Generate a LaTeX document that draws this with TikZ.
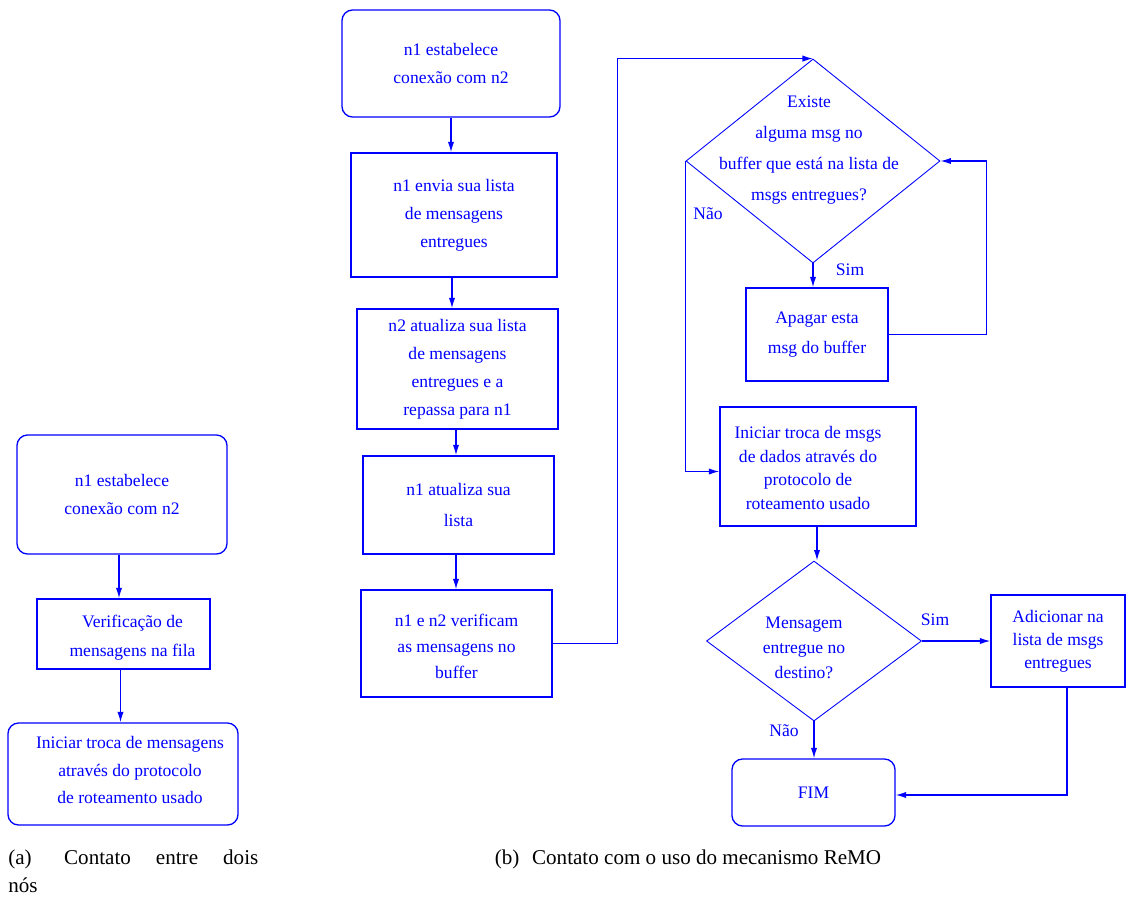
\documentclass[tikz,border=0pt]{standalone}
\usepackage{fontspec}
\setmainfont{Liberation Serif}
\usetikzlibrary{shapes.geometric,arrows.meta}
\begin{document}
\begin{tikzpicture}[x=0.02cm,y=-0.02cm,
  line/.style={draw=blue, line width=0.75pt},
  arr/.style={line, -{Latex[length=6pt,width=3.6pt]}},
  sz/.style 2 args={minimum width=#1*0.02cm, minimum height=#2*0.02cm},
  box/.style={line, rectangle, inner sep=0pt, text=blue, align=center, font=\fontsize{10}{16}\selectfont},
  rbox/.style={box, rounded corners=6pt},
  dia/.style={draw=blue, line width=0.5pt, diamond, inner sep=0pt},
  dtxt/.style={text=blue, align=center},
  lbl/.style={text=blue, inner sep=0pt, font=\fontsize{10}{12}\selectfont},
  captxt/.style={inner sep=0pt, font=\fontsize{12}{15.5}\selectfont}]
\useasboundingbox (0,0) rectangle (1126,900);

% ---------- panel (a)
\node[rbox, sz={210}{119}] (a1) at (122,494.5) {n1 estabelece\\conexão com n2};
\node[box, sz={173}{70},
  label={[dtxt, font=\fontsize{10}{16.5}\selectfont, xshift=0.18cm, yshift=-0.07cm]center:Verificação de\\mensagens na fila}]
  (a2) at (123.5,634) {};
\node[rbox, sz={230}{102},
  label={[dtxt, font=\fontsize{10}{15.4}\selectfont, xshift=0.14cm, yshift=0.08cm]center:Iniciar troca de mensagens\\através do protocolo\\de roteamento usado}]
  (a3) at (123,774) {};
\draw[arr] ([xshift=-0.06cm]a1.south) -- ([xshift=-0.06cm]a1.south |- a2.north);
\draw[arr] ([xshift=-0.06cm]a2.south) -- ([xshift=-0.06cm]a2.south |- a3.north);

% ---------- panel (b), left column
\node[rbox, sz={218}{107}] (b1) at (451,63.5) {n1 estabelece\\conexão com n2};
\node[box, sz={206}{124}] (b2) at (454,215) {n1 envia sua lista\\de mensagens\\entregues};
\node[box, sz={201}{120}] (b3) at (457.5,369) {n2 atualiza sua lista\\de mensagens\\entregues e a\\repassa para n1};
\node[box, sz={191}{98}, font=\fontsize{10}{17.5}\selectfont] (b4) at (458.5,505) {n1 atualiza sua\\lista};
\node[box, sz={191}{107},
  label={[dtxt, font=\fontsize{10}{15}\selectfont, yshift=-0.06cm]center:n1 e n2 verificam\\as mensagens no\\buffer}]
  (b5) at (456.5,643.5) {};
\draw[arr] (b1.south) -- (b1.south |- b2.north);
\draw[arr] ([xshift=-0.04cm]b2.south) -- ([xshift=-0.04cm]b2.south |- b3.north);
\draw[arr] ([xshift=-0.03cm]b3.south) -- ([xshift=-0.03cm]b3.south |- b4.north);
\draw[arr] ([xshift=-0.05cm]b4.south) -- ([xshift=-0.05cm]b4.south |- b5.north);

% ---------- panel (b), right column
\node[dia, sz={254}{204},
  label={[dtxt, font=\fontsize{10}{17.5}\selectfont, xshift=-0.08cm, yshift=0.22cm]center:Existe\\alguma msg no\\buffer que está na lista de\\msgs entregues?}]
  (d1) at (813,161) {};
\node[box, sz={142}{93}, font=\fontsize{10}{17}\selectfont] (ap) at (817,334.5) {Apagar esta\\msg do buffer};
\node[box, sz={196}{119},
  label={[dtxt, font=\fontsize{10}{13.5}\selectfont, xshift=-0.2cm, yshift=-0.03cm]center:Iniciar troca de msgs\\de dados através do\\protocolo de\\roteamento usado}]
  (ini) at (818,466.5) {};
\node[dia, sz={215}{160},
  label={[dtxt, font=\fontsize{10}{14.2}\selectfont, xshift=-0.2cm, yshift=-0.14cm]center:Mensagem\\entregue no\\destino?}]
  (d2) at (814,641) {};
\node[box, sz={134}{92}, font=\fontsize{10}{13}\selectfont] (ad) at (1058,641) {Adicionar na\\lista de msgs\\entregues};
\node[rbox, sz={163}{67}] (fim) at (813.5,792.5) {FIM};

\draw[arr] (b5.east) -- ++(65,0) |- (d1.north);
\draw[arr] (d1.south) -- (d1.south |- ap.north);
\draw[arr] (ap.east) -- ++(98,0) |- (d1.east);
\draw[arr] (d1.west) |- ([yshift=-0.1cm]ini.west);
\draw[arr] ([xshift=-0.02cm]ini.south) -- ([xshift=-0.02cm]ini.south |- d2.north);
\draw[arr] (d2.east) -- (ad.west |- d2.east);
\draw[arr] ([xshift=0.18cm]ad.south) |- ([yshift=-0.05cm]fim.east);
\draw[arr] (d2.south) -- (d2.south |- fim.north);

\node[lbl] (sim1) at (850,270) {Sim};
\node[lbl] (nao1) at (708,214) {Não};
\node[lbl] (sim2) at (935,620) {Sim};
\node[lbl] (nao2) at (784,731) {Não};

% ---------- captions
\node[captxt, anchor=north west, align=left] (capa) at (8,850) {\makebox[5.0cm][s]{(a)\hspace{0.35em} Contato entre dois}\\nós};
\node[captxt] (capb) at (688,859) {(b)\hspace{0.35em} Contato com o uso do mecanismo ReMO};
\end{tikzpicture}
\end{document}
